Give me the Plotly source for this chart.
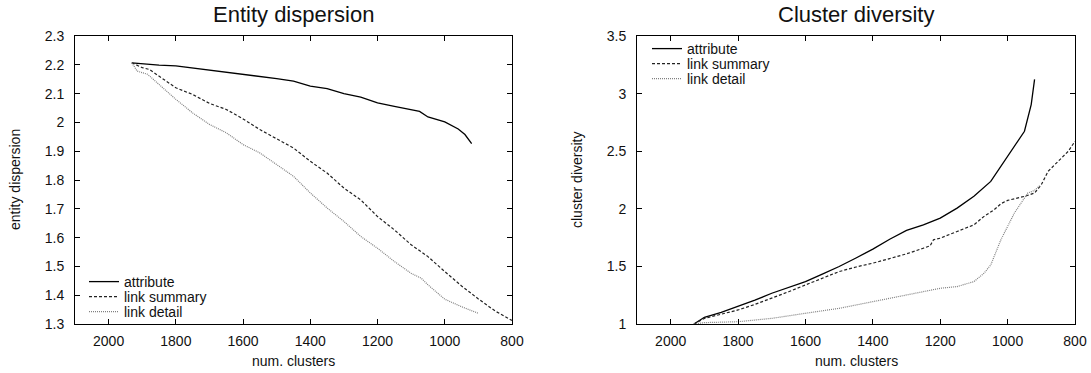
import plotly.graph_objects as go

PAGE_W, PAGE_H = 1091, 373
OFF = 0  # body margin removed via post_script below
W, H = PAGE_W - OFF, PAGE_H - OFF

# ---- Left panel: Entity dispersion ----
ed_attr_x = [1931, 1900, 1850, 1800, 1750, 1700, 1650, 1600, 1550, 1500, 1450, 1400, 1350, 1300,
             1250, 1200, 1150, 1100, 1075, 1050, 1000, 960, 940, 920]
ed_attr_y = [2.207, 2.203, 2.199, 2.196, 2.189, 2.182, 2.175, 2.167, 2.160, 2.152, 2.143, 2.126, 2.117,
             2.100, 2.088, 2.068, 2.056, 2.045, 2.038, 2.019, 2.002, 1.977, 1.958, 1.926]

ed_sum_x = [1931, 1900, 1879, 1800, 1750, 1700, 1650, 1600, 1550, 1500, 1450, 1400, 1350, 1300, 1250,
            1200, 1150, 1100, 1050, 1000, 950, 900, 850, 800]
ed_sum_y = [2.207, 2.190, 2.184, 2.120, 2.097, 2.066, 2.045, 2.012, 1.975, 1.943, 1.911, 1.865, 1.824,
            1.772, 1.731, 1.673, 1.627, 1.575, 1.534, 1.482, 1.432, 1.387, 1.345, 1.312]

ed_det_x = [1931, 1915, 1884, 1850, 1800, 1750, 1700, 1650, 1600, 1550, 1500, 1450, 1400, 1350, 1300,
            1250, 1200, 1150, 1100, 1070, 1050, 1000, 950, 900]
ed_det_y = [2.207, 2.178, 2.167, 2.132, 2.080, 2.033, 1.993, 1.964, 1.923, 1.894, 1.853, 1.813, 1.755,
            1.703, 1.656, 1.604, 1.563, 1.517, 1.476, 1.459, 1.436, 1.386, 1.360, 1.337]

# ---- Right panel: Cluster diversity ----
cd_attr_x = [1931, 1900, 1850, 1800, 1750, 1700, 1650, 1600, 1550, 1500, 1450, 1400, 1350, 1300,
             1250, 1200, 1150, 1100, 1050, 1000, 975, 950, 930, 920]
cd_attr_y = [1.0, 1.058, 1.100, 1.151, 1.207, 1.267, 1.317, 1.368, 1.433, 1.499, 1.573, 1.650, 1.736,
             1.812, 1.861, 1.919, 2.006, 2.108, 2.238, 2.456, 2.572, 2.673, 2.905, 3.123]

cd_sum_x = [1931, 1900, 1850, 1800, 1750, 1700, 1650, 1600, 1550, 1500, 1450, 1400, 1350, 1300, 1250,
            1230, 1220, 1200, 1150, 1100, 1070, 1040, 1020, 1000, 950, 920, 900, 880, 850, 820, 800]
cd_sum_y = [1.0, 1.049, 1.085, 1.122, 1.170, 1.223, 1.280, 1.339, 1.400, 1.455, 1.495, 1.528, 1.568,
            1.609, 1.658, 1.679, 1.731, 1.745, 1.803, 1.861, 1.934, 1.992, 2.044, 2.073, 2.108, 2.137,
            2.209, 2.325, 2.412, 2.499, 2.586]

cd_det_x = [1931, 1900, 1800, 1700, 1600, 1500, 1400, 1300, 1200, 1150, 1100, 1070, 1050, 1040, 1020,
            1000, 980, 960, 940, 920, 905]
cd_det_y = [1.0, 1.012, 1.020, 1.049, 1.093, 1.136, 1.194, 1.252, 1.310, 1.325, 1.368, 1.441, 1.513,
            1.586, 1.731, 1.847, 1.963, 2.050, 2.137, 2.160, 2.200]

names = ["attribute", "link summary", "link detail"]
styles = [dict(color="#000000", width=1.3, dash="solid"),
          dict(color="#222222", width=1.2, dash="3px,2px"),
          dict(color="#808080", width=1.2, dash="1px,1px")]

FONT = "Liberation Sans, Arial, sans-serif"

# frame positions on the page (pixels)
F1L, F1R, F2L, F2R, FT, FB = 75, 512, 637, 1075, 36, 324
ML, MR, MT, MB = F1L - OFF, W - (F2R - OFF), FT - OFF, H - (FB - OFF)
PW, PH = W - ML - MR, H - MT - MB


def px(xpage):
    return (xpage - OFF - ML) / PW


def py(ypage):
    return (H - MB - (ypage - OFF)) / PH


fig = go.Figure()

left = [(ed_attr_x, ed_attr_y), (ed_sum_x, ed_sum_y), (ed_det_x, ed_det_y)]
right = [(cd_attr_x, cd_attr_y), (cd_sum_x, cd_sum_y), (cd_det_x, cd_det_y)]
legend_layout = {}
left_rows = [282, 297, 312]
right_rows = [49, 64, 79]
k = 1
for (x, y), n, s, row in zip(left, names, styles, left_rows):
    lname = "legend" if k == 1 else f"legend{k}"
    fig.add_trace(go.Scatter(x=x, y=y, mode="lines", name=n, line=s, showlegend=True,
                             xaxis="x", yaxis="y", legend=lname))
    legend_layout[lname] = dict(x=px(84), y=py(row), xanchor="left", yanchor="middle",
                                bgcolor="rgba(0,0,0,0)", font=dict(size=14, family=FONT, color="#111"),
                                itemwidth=30, borderwidth=0)
    k += 1
for (x, y), n, s, row in zip(right, names, styles, right_rows):
    lname = f"legend{k}"
    fig.add_trace(go.Scatter(x=x, y=y, mode="lines", name=n, line=s, showlegend=True,
                             xaxis="x2", yaxis="y2", legend=lname))
    legend_layout[lname] = dict(x=px(647), y=py(row), xanchor="left", yanchor="middle",
                                bgcolor="rgba(0,0,0,0)", font=dict(size=14, family=FONT, color="#111"),
                                itemwidth=30, borderwidth=0)
    k += 1

xdom1 = [px(F1L), px(F1R)]
xdom2 = [px(F2L), px(F2R)]
ydom = [0, 1]

axis_common = dict(showline=True, linecolor="black", linewidth=1, mirror="ticks",
                   ticks="inside", ticklen=5, tickcolor="black", showgrid=False,
                   zeroline=False, tickfont=dict(size=14, color="#111", family=FONT))
xax = dict(axis_common, ticklabelstandoff=4)
yax = dict(axis_common, ticklabelstandoff=7)

annotations = [
    dict(text="Entity dispersion", x=px((F1L + F1R) / 2), y=py(15)),
    dict(text="Cluster diversity", x=px((F2L + F2R) / 2), y=py(15)),
    dict(text="num. clusters", x=px((F1L + F1R) / 2), y=py(361), size=14),
    dict(text="num. clusters", x=px((F2L + F2R) / 2), y=py(361), size=14),
    dict(text="entity dispersion", x=px(15), y=0.5, size=14, textangle=-90),
    dict(text="cluster diversity", x=px(577), y=0.5, size=14, textangle=-90),
]
ann = []
for a in annotations:
    ann.append(dict(text=a["text"], x=a["x"], y=a["y"], xref="paper", yref="paper",
                    showarrow=False, xanchor="center", yanchor="middle",
                    textangle=a.get("textangle", 0),
                    font=dict(size=a.get("size", 22), family=FONT, color="#111")))

fig.update_layout(
    width=W, height=H,
    showlegend=True,
    margin=dict(l=ML, r=MR, t=MT, b=MB, autoexpand=False),
    paper_bgcolor="white", plot_bgcolor="white",
    font=dict(family=FONT, color="#111"),
    xaxis=dict(domain=xdom1, range=[2100, 800], dtick=200, tick0=800, anchor="y", **xax),
    yaxis=dict(domain=ydom, range=[1.3, 2.3], dtick=0.1, tick0=1.3, anchor="x", **yax),
    xaxis2=dict(domain=xdom2, range=[2100, 800], dtick=200, tick0=800, anchor="y2", **xax),
    yaxis2=dict(domain=ydom, range=[1.0, 3.5], dtick=0.5, tick0=1.0, anchor="x2", **yax),
    annotations=ann,
    **legend_layout,
)

fig.write_html("out.html",
               config={"displayModeBar": False},
               post_script="document.body.style.margin='0px';document.body.style.overflow='hidden';")
